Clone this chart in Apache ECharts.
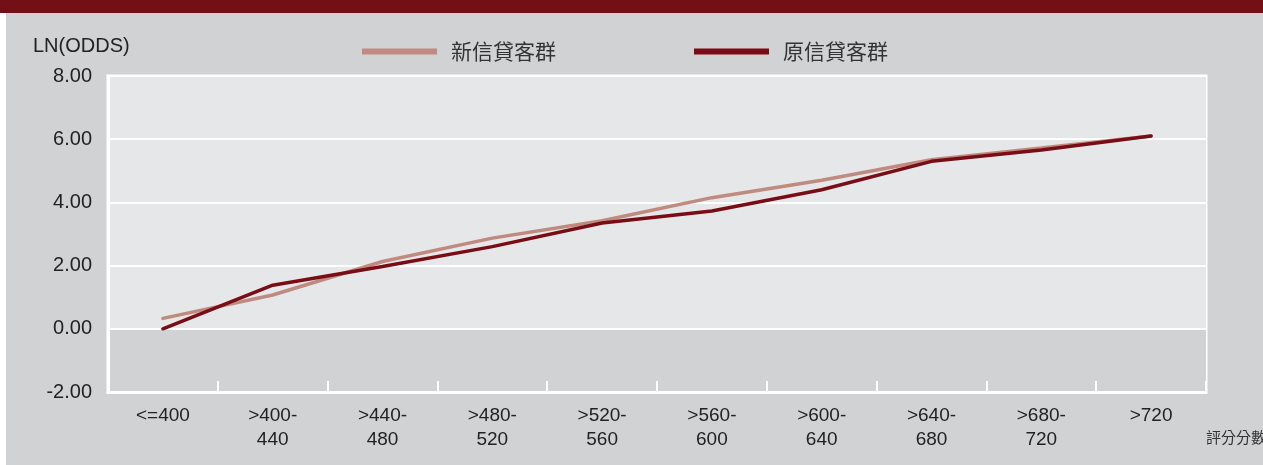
<!DOCTYPE html>
<html>
<head>
<meta charset="utf-8">
<title>LN(ODDS) 評分分數</title>
<script src="https://cdn.jsdelivr.net/npm/echarts@6/dist/echarts.min.js"></script>
<style>
  html, body { margin: 0; padding: 0; background: #ffffff; }
  #wrap { position: relative; width: 1263px; height: 465px; overflow: hidden; }
  #panel { position: absolute; left: 6px; top: 0; width: 1257px; height: 465px; background: #d1d2d4; }
  #band { position: absolute; left: 0; top: 0; width: 1263px; height: 13px; background: #730f15; }
  #chart { position: absolute; left: 0; top: 0; width: 1263px; height: 465px; }
</style>
</head>
<body>
<div id="wrap">
  <div id="panel"></div>
  <div id="band"></div>
  <div id="chart"></div>
</div>
<script>
// Score bands (x axis)
const categories = ['<=400', '>400-440', '>440-480', '>480-520', '>520-560',
                    '>560-600', '>600-640', '>640-680', '>680-720', '>720'];

// LN(odds) per score band
const newGroup = [0.33, 1.07, 2.13, 2.87, 3.42, 4.15, 4.70, 5.35, 5.72, 6.10];
const oldGroup = [0.00, 1.38, 1.97, 2.60, 3.35, 3.73, 4.40, 5.30, 5.66, 6.10];

const seriesNames = ['新信貸客群', '原信貸客群'];
const yTicks = { min: -2, max: 8, step: 2 };

const FONT = '"Liberation Sans", Arial, "Noto Sans CJK TC", sans-serif';
const CJK = '"Noto Sans CJK TC", "Liberation Sans", sans-serif';

const chart = echarts.init(document.getElementById('chart'), null, { renderer: 'canvas' });

chart.setOption({
  backgroundColor: 'transparent',
  animation: false,
  color: ['#bf8a7f', '#790d15'],
  legend: {
    left: 357,
    top: 36,
    icon: 'rect',
    itemWidth: 75,
    itemHeight: 6,
    itemGap: 138,
    textStyle: { fontFamily: CJK, fontSize: 21, color: '#333', padding: [0, 0, 0, 9] },
    data: seriesNames
  },
  grid: {
    left: 108, right: 57, top: 76, bottom: 73,
    show: true,
    borderColor: '#ffffff',
    borderWidth: 3,
    backgroundColor: 'transparent'
  },
  xAxis: {
    type: 'category',
    data: categories,
    boundaryGap: true,
    axisLine: { show: true, onZero: false, lineStyle: { color: '#ffffff', width: 3 } },
    axisTick: { show: true, inside: true, length: 11, interval: 0,
                lineStyle: { color: '#ffffff', width: 2 } },
    axisLabel: {
      interval: 0, margin: 12,
      fontFamily: FONT, fontSize: 19, color: '#222', lineHeight: 24,
      formatter: v => v.replace('-', '-\n')
    },
    splitLine: { show: false }
  },
  yAxis: {
    type: 'value',
    min: yTicks.min, max: yTicks.max, interval: yTicks.step,
    axisLine: { show: true, lineStyle: { color: '#ffffff', width: 3 } },
    axisTick: { show: false },
    axisLabel: {
      margin: 16, fontFamily: FONT, fontSize: 20, color: '#222',
      padding: [6, 0, 0, 0],
      formatter: v => v.toFixed(2)
    },
    splitLine: { show: true, lineStyle: { color: '#ffffff', width: 2 } },
    splitArea: { show: true, areaStyle: { color: ['#d1d2d4', '#e6e7e8', '#e6e7e8', '#e6e7e8', '#e6e7e8'] } }
  },
  graphic: [
    { type: 'text', left: 33, top: 36,
      style: { text: 'LN(ODDS)', font: '20px ' + FONT, fill: '#222' } },
    { type: 'text', left: 1206, top: 430,
      style: { text: '評分分數', font: '15px ' + CJK, fill: '#333' } }
  ],
  series: [
    { name: seriesNames[0], type: 'line', data: newGroup, showSymbol: false,
      lineStyle: { width: 3.5, color: '#bf8a7f', cap: 'round' }, z: 3 },
    { name: seriesNames[1], type: 'line', data: oldGroup, showSymbol: false,
      lineStyle: { width: 3.5, color: '#790d15', cap: 'round' }, z: 4 }
  ]
});
</script>
</body>
</html>
